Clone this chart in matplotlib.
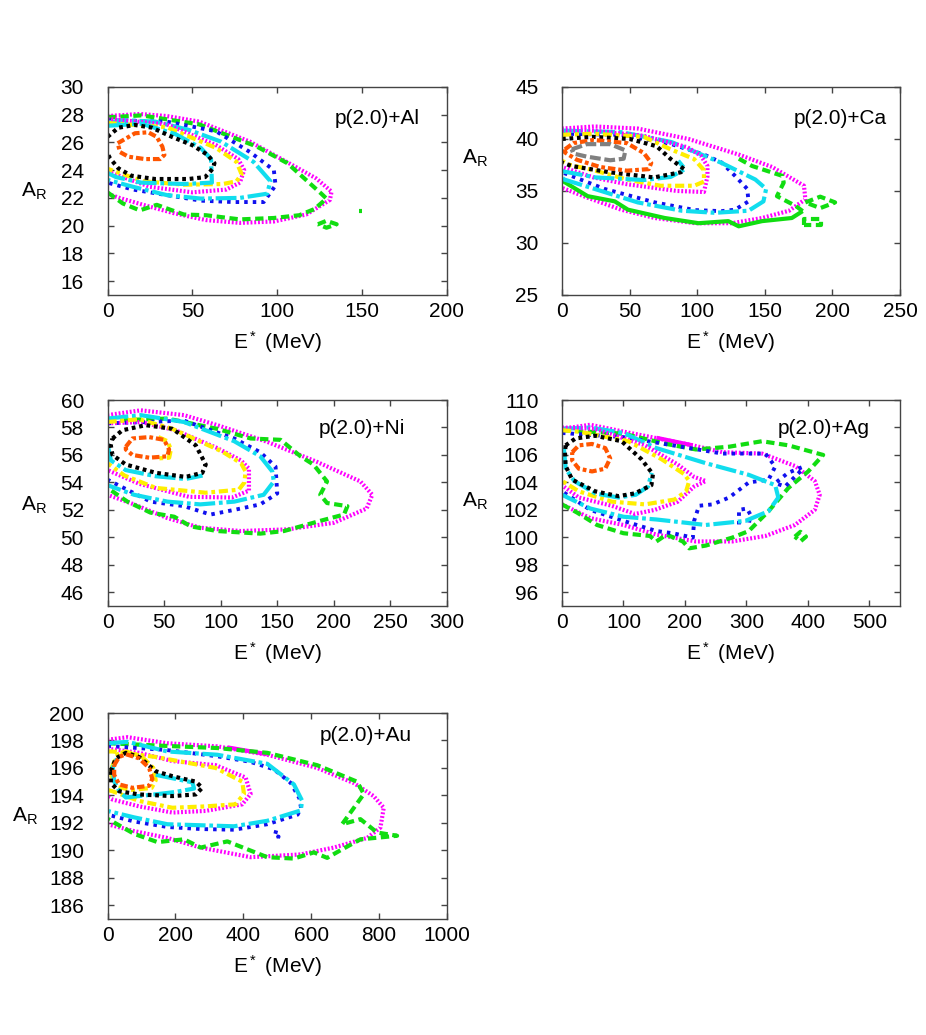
import matplotlib
matplotlib.use('Agg')
import matplotlib.pyplot as plt

plt.rcParams['font.family'] = ['Liberation Sans', 'DejaVu Sans']
plt.rcParams['font.size'] = 15
plt.rcParams['mathtext.default'] = 'regular'

# contour outlines, (E* in MeV, A_R)
AL_MAGENTA = [(0, 27.9), (19, 28.05), (35, 27.9), (54, 27.5), (84, 26.05), (104, 24.7), (123, 23.4),
              (132, 22.45), (131, 21.85), (117, 20.8), (98, 20.3), (78, 20.2), (58, 20.4), (39, 20.9),
              (21, 21.5), (7, 22.0), (0, 22.3)]
AL_GREEN = [(0, 27.8), (20, 27.95), (54, 27.3), (88, 25.7), (106, 24.5), (126, 22.3), (129, 21.95),
            (122, 21.2), (113, 20.75), (98, 20.55), (78, 20.45), (58, 20.75), (45, 20.8), (29, 21.5),
            (19, 21.1), (9, 21.6), (0, 22.4)]
AL_GREEN_DIAMOND = [(124, 20.1), (129, 20.35), (135, 20.1), (129, 19.85), (124, 20.1)]
AL_GREEN_DOT = [(148, 21.05), (150, 21.05)]
AL_BLUE = [(0, 27.6), (35, 27.5), (64, 26.8), (84, 25.3), (98, 24.0), (99, 22.9), (92, 21.7), (74, 21.7),
           (55, 21.8), (35, 22.2), (15, 22.6), (0, 23.1)]
AL_CYAN = [(0, 27.45), (10, 27.6), (28, 27.5), (48, 26.9), (67, 26.05), (86, 24.6), (96, 23.2), (94, 22.3),
           (78, 22.0), (55, 21.95), (35, 22.2), (15, 22.8), (0, 23.3)]
AL_MAGENTA2 = [(0, 27.7), (35, 27.3), (64, 25.8), (77, 24.8), (80.5, 24.0), (78, 23.1), (70, 22.6),
               (50, 22.4), (25, 22.8), (0, 23.9)]
AL_YELLOW = [(0, 27.4), (35, 27.1), (64, 25.6), (76, 24.6), (79, 23.7), (76, 23.2), (68, 23.0), (45, 22.95),
             (21, 23.2), (0, 24.1)]
AL_BLACK = [(0, 26.4), (6.4, 27.06), (16, 27.26), (26, 27.07), (38, 26.4), (50, 25.8), (59, 25.1), (63, 24.5),
            (62, 24.1), (57.5, 23.5), (47.6, 23.36), (28, 23.36), (14, 23.6), (6.4, 24.13), (1.5, 24.85),
            (0, 25.2)]
AL_CYAN2 = [(0, 27.2), (20, 27.35), (40, 26.6), (55, 25.6), (61, 24.8), (61.5, 23.1), (45, 23.0), (20, 23.1),
            (5, 23.5), (0, 23.8)]
AL_ORANGE = [(6, 25.94), (16.2, 26.66), (24, 26.73), (29, 26.4), (32.3, 25.7), (33.5, 25.1), (31, 24.8),
             (22, 24.8), (12.3, 24.97), (7.4, 25.3), (6, 25.94)]

CA_MAGENTA = [(0, 41.0), (24, 41.2), (56, 41.0), (93.5, 40.0), (130.7, 38.5), (155.5, 37.3), (179, 35.5),
              (180, 34.2), (168, 33.1), (148, 32.4), (125.7, 31.9), (98.4, 31.9), (68.7, 32.4), (43.8, 33.2),
              (19, 34.35), (0, 35.3)]
CA_GREEN_SOLID = [(0, 36.0), (19, 34.5), (39, 34.0), (48.8, 33.2), (76, 32.4), (101, 31.9), (123, 32.1),
                  (130.7, 31.6), (148, 32.1), (170, 32.4), (178, 33.06)]
CA_GREEN_DASHED = [(178, 33.06), (173, 33.55), (159, 34.5), (164, 35.8), (163, 36.45), (140.6, 37.4),
                   (128, 38.3)]
CA_GREEN_DIAMOND = [(180, 33.9), (191, 34.45), (202, 33.9), (191, 33.35), (180, 33.9)]
CA_GREEN_BOX = [(179, 31.75), (179, 32.35), (191.5, 32.35), (191.5, 31.75), (179, 31.75)]
CA_CYAN = [(0, 40.8), (44, 40.65), (81, 39.7), (118, 37.7), (143, 36.1), (151, 35.2), (149, 34.0),
           (138, 33.1), (113, 32.9), (88.5, 33.1), (56, 33.9), (24, 35.2), (1.6, 36.1), (0, 36.3)]
CA_BLUE = [(0, 40.5), (44, 40.4), (81, 39.5), (105, 38.5), (118, 37.74), (128, 36.45), (137, 35.2),
           (138, 34.0), (128, 33.2), (118, 33.06), (98.4, 33.16), (68.7, 33.9), (31.4, 35.2), (0, 36.8)]
CA_MAGENTA2 = [(0, 40.8), (23.3, 40.8), (60.5, 40.3), (92.8, 39.2), (102.7, 38.4), (107.6, 37.4),
               (107.6, 36.4), (105, 34.9), (85, 35.0), (48, 35.65), (23.3, 36.3), (0, 37.3)]
CA_YELLOW = [(0, 40.4), (23.3, 40.5), (60.5, 40.2), (80.4, 39.0), (97.7, 38.07), (105, 37.0), (105, 35.9),
             (97.7, 35.5), (73, 35.5), (48, 36.1), (23.3, 37.0), (6, 37.5), (0, 37.9)]
CA_BLACK = [(0, 40.0), (23, 40.2), (50, 40.0), (70, 39.3), (80.4, 38.07), (90.3, 37.1), (88, 36.8),
            (68, 36.3), (35, 36.8), (7, 37.4), (0, 37.74)]
CA_CYAN2 = [(0, 36.9), (25, 36.3), (60.5, 36.05), (80.4, 36.35), (91, 37.1), (86, 37.9)]
CA_ORANGE = [(2.2, 39.0), (8.4, 39.6), (23.3, 39.9), (48, 39.6), (60.5, 38.65), (66, 37.7), (64.2, 37.1),
             (48, 36.95), (28.3, 37.3), (11, 38.0), (2.2, 38.7), (2.2, 39.0)]
CA_GRAY = [(7.2, 39.0), (18.3, 39.5), (35.7, 39.5), (46.9, 38.9), (45.6, 38.1), (35.7, 37.95), (18.3, 38.3),
           (8.4, 38.6), (7.2, 39.0)]

NI_MAGENTA = [(0, 58.9), (29.4, 59.25), (67.6, 58.9), (97, 58.17), (141, 56.96), (185, 55.5), (223.5, 54.07),
              (234, 53.1), (229, 52.1), (200, 51.06), (159, 50.58), (117.6, 50.46), (82, 50.7), (53, 51.4),
              (23.5, 52.4), (0, 53.1)]
NI_GREEN = [(0, 58.5), (53, 58.65), (97, 57.9), (126.5, 57.2), (153, 57.1), (170.6, 55.9), (182, 55.3),
            (194, 54.07), (188, 53.1), (194, 52.5), (212, 52.27), (209, 51.66), (188, 51.2), (156, 50.46),
            (135, 50.27), (97, 50.46), (73.5, 50.8), (59, 51.5), (38, 51.8), (17.6, 52.6), (0, 53.6)]
NI_BLUE = [(0, 58.3), (67.6, 58.5), (112, 57.2), (135, 56.2), (148.5, 55.15), (150, 53.2), (135, 52.4),
           (112, 52.0), (91, 51.66), (67.6, 52.27), (38, 52.6), (0, 54.2)]
NI_CYAN = [(0, 58.65), (29.4, 58.9), (67.6, 58.4), (112, 57.0), (135, 55.9), (145.6, 54.8), (147, 54.07),
           (138, 53.1), (112, 52.6), (82, 52.4), (53, 52.6), (23.5, 53.1), (0, 53.8)]
NI_MAGENTA2 = [(0, 58.3), (30, 58.4), (60, 57.8), (97, 56.5), (118, 55.6), (125, 55.0), (125, 53.4),
               (110, 52.9), (72, 52.95), (28, 53.9), (0, 54.9)]
NI_YELLOW = [(0, 58.4), (28, 58.6), (57.4, 57.9), (101.5, 56.24), (118, 55.4), (122, 54.8), (121, 54.0),
             (116, 53.47), (86.8, 53.25), (42.6, 53.6), (15, 54.5), (0, 55.4)]
NI_BLACK = [(4.4, 57.2), (13.2, 57.8), (33.8, 58.17), (57.4, 57.9), (78, 56.7), (86.8, 55.3), (83.8, 54.7),
            (69, 54.4), (42.6, 54.7), (16.2, 55.3), (4.4, 56.0), (2.9, 56.7), (4.4, 57.2)]
NI_CYAN2 = [(0, 56.8), (3, 55.6), (16, 54.9), (42.6, 54.45), (69, 54.25), (84, 54.5)]
NI_ORANGE = [(16.2, 56.6), (22, 57.2), (36.8, 57.3), (50, 57.1), (54.4, 56.4), (52.9, 55.9), (36.8, 55.8),
             (22, 56.0), (16.2, 56.4), (16.2, 56.6)]
NI_YELLOW2 = [(45, 57.3), (53, 57.0), (56, 56.4), (54.5, 55.8), (45, 55.75)]

AG_MAGENTA = [(0, 107.9), (46, 108.2), (100, 107.7), (212.7, 106.7), (261, 106.2), (325.5, 106.1),
              (379, 105.2), (411.4, 104.1), (419.4, 103.1), (411.4, 102.0), (379, 100.9), (331, 100.1),
              (277, 99.7), (218, 99.7), (153.6, 100.2), (100, 100.9), (46, 101.4), (0, 102.4)]
AG_MAGENTA_SOLID = [(153.6, 107.25), (212.7, 106.7)]
AG_GREEN = [(0, 107.8), (100, 107.55), (170, 106.8), (218, 106.4), (272, 106.6), (325.5, 107.0),
            (368.4, 106.7), (425, 106.0), (400.6, 104.8), (368.4, 103.6), (336, 101.9), (304, 100.46),
            (277, 99.98), (234, 99.4), (207, 99.2), (196.6, 99.7), (170, 100.2), (153.6, 99.7), (143, 100.1),
            (100, 100.3), (57, 100.9), (24.7, 101.8), (0, 102.4)]
AG_GREEN_DIAMOND = [(379, 100.05), (388, 100.4), (397, 100.05), (388, 99.7), (379, 100.05)]
AG_BLUE = [(0, 107.6), (100, 107.3), (207, 106.5), (261, 106.1), (331, 106.1), (347, 105.15), (336, 104.2),
           (304, 104.0), (272, 102.9), (245, 102.4), (223, 102.3), (215, 101.2), (213, 99.98), (180, 100.3),
           (153.6, 100.46), (100, 101.2), (46, 102.0), (0, 103.35)]
AG_BLUE_LOOP = [(390, 105.1), (368, 104.7), (347, 103.95), (363, 103.7), (390, 104.9), (390, 105.1)]
AG_BLUE_SMALL = [(288, 100.94), (288, 102.0), (301, 102.1), (306.6, 101.65), (304, 100.94)]
AG_CYAN = [(0, 107.9), (46, 108.0), (100, 107.6), (153.6, 106.5), (234, 105.4), (304, 104.55), (347, 103.8),
           (352, 102.9), (336, 101.9), (298.6, 101.2), (234, 100.9), (153.6, 101.3), (100, 101.5),
           (46, 102.1), (0, 103.1)]
AG_MAGENTA2 = [(0, 108.0), (54, 107.9), (135, 106.7), (188.5, 105.3), (215, 104.4), (234, 104.1),
               (215, 103.7), (188.5, 102.6), (151, 102.0), (118.7, 101.7), (81, 102.3), (27.4, 102.9),
               (5.9, 103.6), (0, 103.8)]
AG_YELLOW = [(0, 107.8), (27.4, 107.7), (108, 107.0), (161.7, 105.7), (199, 104.6), (207, 104.1),
             (202, 103.35), (183, 102.75), (135, 102.4), (81, 102.6), (27.4, 103.35), (5.9, 103.95),
             (0, 104.1)]
AG_BLACK = [(5.9, 106.7), (22, 107.2), (54, 107.4), (97, 107.0), (129, 105.7), (148, 104.6), (145.5, 103.8),
            (118.7, 103.2), (91.8, 103.0), (54, 103.35), (16.6, 104.2), (5.9, 105.2), (4.8, 106.2),
            (5.9, 106.7)]
AG_CYAN2 = [(3, 106.5), (6, 105.0), (20, 104.1), (54, 103.2), (91.8, 102.9), (120, 103.1), (140, 103.7),
            (146, 104.7)]
AG_ORANGE = [(16.6, 106.2), (27.4, 106.7), (48.9, 106.8), (70.4, 106.5), (78.4, 105.75), (70.4, 105.0),
             (48.9, 104.8), (27.4, 105.0), (16.6, 105.6), (16.6, 106.2)]

AU_MAGENTA = [(0, 198.05), (59, 198.24), (176, 197.8), (323.5, 197.57), (470.6, 196.96), (617.6, 196.0),
              (725.5, 194.9), (784, 193.95), (813.7, 193.1), (804, 191.66), (764.7, 190.9), (666.7, 190.2),
              (568.6, 189.7), (421.6, 189.5), (274.5, 190.2), (176.5, 190.9), (78.4, 191.4), (0, 191.9)]
AU_MAGENTA_SOLID = [(353, 197.5), (470, 197.0)]
AU_GREEN = [(0, 197.8), (176, 197.6), (323.5, 197.45), (470.6, 197.1), (617.6, 196.2), (735, 195.0),
            (755, 194.1), (691, 191.9), (745, 192.27), (794, 191.3), (853, 191.06), (745, 190.8), (686, 190.0),
            (647, 189.45), (608, 189.85), (549, 189.4), (470.6, 189.5), (353, 190.65), (274.5, 190.2),
            (225.5, 190.8), (147, 190.6), (78.4, 191.2), (0, 192.3)]
AU_BLUE = [(0, 197.6), (176, 197.3), (323, 196.85), (420, 196.45), (490, 195.9), (540, 194.9), (565, 193.8),
           (570, 193.1), (560, 192.6), (470.6, 191.9), (372.5, 191.5), (274.5, 191.55), (176.5, 191.7),
           (78.4, 192.1), (0, 192.6)]
AU_BLUE_SMALL = [(497, 191.45), (492, 191.0), (504, 191.0), (500, 190.8)]
AU_CYAN = [(0, 197.8), (59, 197.9), (176.5, 197.2), (323.5, 196.96), (470.6, 196.3), (549, 194.8),
           (573.5, 193.6), (569, 192.9), (549, 192.75), (470.6, 192.15), (372.5, 191.75), (176.5, 191.9),
           (78.4, 192.4), (0, 192.87)]
AU_MAGENTA2 = [(0, 197.4), (34, 197.3), (93, 197.1), (191, 196.5), (318.6, 196.2), (407, 195.3),
               (421.6, 194.1), (397, 193.35), (289, 192.87), (191, 192.75), (93, 193.2), (14.7, 193.7),
               (0, 193.9)]
AU_YELLOW = [(0, 197.2), (14.7, 197.2), (142, 196.8), (318.6, 196.0), (397, 195.0), (402, 194.1),
             (377, 193.35), (289, 193.2), (191, 193.1), (93, 193.6), (14.7, 194.3), (0, 194.4)]
AU_BLACK = [(9.8, 195.76), (24.5, 196.7), (54, 197.1), (93, 196.8), (142, 195.76), (191, 195.4), (260, 195.0),
            (279, 194.55), (260, 194.07), (191, 193.95), (93, 194.07), (34.3, 194.3), (9.8, 194.9),
            (9.8, 195.76)]
AU_CYAN2 = [(142, 195.5), (250, 194.95), (255, 194.5), (200, 194.25), (150, 194.1), (54, 193.85), (35, 194.3),
            (20, 195.0), (15, 196.0), (28, 196.7)]
AU_YELLOW2 = [(12, 196.0), (30, 197.0), (54, 197.2), (100, 196.85), (135, 196.0), (142, 195.1), (130, 194.55),
              (73.5, 194.4), (30, 194.6), (12, 195.4), (12, 196.0)]
AU_ORANGE = [(19.6, 196.2), (34.3, 196.8), (54, 197.0), (93, 196.7), (122.5, 196.0), (132, 195.2),
             (122.5, 194.7), (73.5, 194.55), (34.3, 194.8), (19.6, 195.5), (19.6, 196.2)]

STYLES = {
    'magenta': dict(color='#ff00ff', ls=(0, (0.45, 0.45)), lw=3.0),
    'magenta_solid': dict(color='#ff00ff', ls='-', lw=3.0),
    'green': dict(color='#11dd11', ls=(0, (2.0, 1.1)), lw=3.0),
    'green_solid': dict(color='#11dd11', ls='-', lw=3.0),
    'blue': dict(color='#1010ee', ls=(0, (0.9, 1.3)), lw=2.8),
    'cyan': dict(color='#11ddee', ls=(0, (5, 0.9, 0.9, 0.9)), lw=3.0),
    'yellow': dict(color='#ffee00', ls=(0, (2.2, 0.9, 0.9, 0.9)), lw=3.0),
    'black': dict(color='#000000', ls=(0, (0.9, 0.9)), lw=3.0),
    'orange': dict(color='#ff5500', ls=(0, (1.8, 0.7, 0.9, 0.7)), lw=3.0),
    'gray': dict(color='#808080', ls=(0, (2.6, 0.9)), lw=3.0),
}

PANELS = [
    dict(label='p(2.0)+Al', rect=[0.1161, 0.7150, 0.3666, 0.2010], xlim=(0, 200), ylim=(15, 30),
         xticks=range(0, 201, 50), yticks=range(16, 31, 2), lab_xy=(0.92, 0.85), ar_xy=(-0.216, 0.50),
         lines=[(AL_MAGENTA, 'magenta'), (AL_GREEN, 'green'), (AL_GREEN_DIAMOND, 'green'),
                (AL_GREEN_DOT, 'green_solid'), (AL_BLUE, 'blue'), (AL_CYAN, 'cyan'),
                (AL_MAGENTA2, 'magenta'), (AL_YELLOW, 'yellow'), (AL_CYAN2, 'cyan'),
                (AL_BLACK, 'black'), (AL_ORANGE, 'orange')]),
    dict(label='p(2.0)+Ca', rect=[0.6069, 0.7150, 0.3650, 0.2010], xlim=(0, 250), ylim=(25, 45),
         xticks=range(0, 251, 50), yticks=range(25, 46, 5), lab_xy=(0.96, 0.85), ar_xy=(-0.257, 0.655),
         lines=[(CA_MAGENTA, 'magenta'), (CA_GREEN_SOLID, 'green_solid'), (CA_GREEN_DASHED, 'green'),
                (CA_GREEN_DIAMOND, 'green'), (CA_GREEN_BOX, 'green'), (CA_BLUE, 'blue'), (CA_CYAN, 'cyan'),
                (CA_MAGENTA2, 'magenta'), (CA_YELLOW, 'yellow'), (CA_CYAN2, 'cyan'), (CA_BLACK, 'black'),
                (CA_ORANGE, 'orange'), (CA_GRAY, 'gray')]),
    dict(label='p(2.0)+Ni', rect=[0.1161, 0.4145, 0.3666, 0.1990], xlim=(0, 300), ylim=(45, 60),
         xticks=range(0, 301, 50), yticks=range(46, 61, 2), lab_xy=(0.876, 0.86), ar_xy=(-0.216, 0.49),
         lines=[(NI_MAGENTA, 'magenta'), (NI_GREEN, 'green'), (NI_BLUE, 'blue'), (NI_CYAN, 'cyan'),
                (NI_MAGENTA2, 'magenta'), (NI_YELLOW, 'yellow'), (NI_CYAN2, 'cyan'), (NI_BLACK, 'black'),
                (NI_YELLOW2, 'yellow'), (NI_ORANGE, 'orange')]),
    dict(label='p(2.0)+Ag', rect=[0.6069, 0.4145, 0.3650, 0.1990], xlim=(0, 550), ylim=(95, 110),
         xticks=range(0, 501, 100), yticks=range(96, 111, 2), lab_xy=(0.911, 0.864), ar_xy=(-0.257, 0.51),
         lines=[(AG_MAGENTA, 'magenta'), (AG_MAGENTA_SOLID, 'magenta_solid'), (AG_GREEN, 'green'),
                (AG_GREEN_DIAMOND, 'green'), (AG_BLUE, 'blue'), (AG_BLUE_LOOP, 'blue'),
                (AG_BLUE_SMALL, 'blue'), (AG_CYAN, 'cyan'), (AG_MAGENTA2, 'magenta'), (AG_YELLOW, 'yellow'),
                (AG_CYAN2, 'cyan'), (AG_BLACK, 'black'), (AG_ORANGE, 'orange')]),
    dict(label='p(2.0)+Au', rect=[0.1161, 0.1121, 0.3666, 0.1990], xlim=(0, 1000), ylim=(185, 200),
         xticks=range(0, 1001, 200), yticks=range(186, 201, 2), lab_xy=(0.896, 0.893), ar_xy=(-0.243, 0.50),
         lines=[(AU_MAGENTA, 'magenta'), (AU_MAGENTA_SOLID, 'magenta_solid'), (AU_GREEN, 'green'),
                (AU_BLUE, 'blue'), (AU_BLUE_SMALL, 'blue'), (AU_CYAN, 'cyan'), (AU_MAGENTA2, 'magenta'),
                (AU_YELLOW, 'yellow'), (AU_YELLOW2, 'yellow'), (AU_CYAN2, 'cyan'), (AU_BLACK, 'black'),
                (AU_ORANGE, 'orange')]),
]

fig = plt.figure(figsize=(9.26, 10.35), dpi=100)

for p in PANELS:
    ax = fig.add_axes(p['rect'])
    for pts, style in p['lines']:
        e, a = zip(*pts)
        ax.plot(e, a, solid_capstyle='butt', dash_capstyle='butt', **STYLES[style])
    ax.set_xlim(*p['xlim'])
    ax.set_ylim(*p['ylim'])
    ax.set_xticks(list(p['xticks']))
    ax.set_yticks(list(p['yticks']))
    ax.tick_params(direction='in', top=True, right=True, length=4, width=1, color='#444444')
    ax.tick_params(axis='y', pad=17)
    ax.tick_params(axis='x', pad=5)
    for s in ax.spines.values():
        s.set_color('#444444')
        s.set_linewidth(1)
    ax.text(p['lab_xy'][0], p['lab_xy'][1], p['label'], transform=ax.transAxes, ha='right', va='center')
    ax.text(p['ar_xy'][0], p['ar_xy'][1], r'A$_R$', transform=ax.transAxes, ha='center', va='center')
    ax.text(0.5, -0.228, r'E$^*$ (MeV)', transform=ax.transAxes, ha='center', va='center')

fig.savefig('out.png', dpi=100)
plt.close(fig)
